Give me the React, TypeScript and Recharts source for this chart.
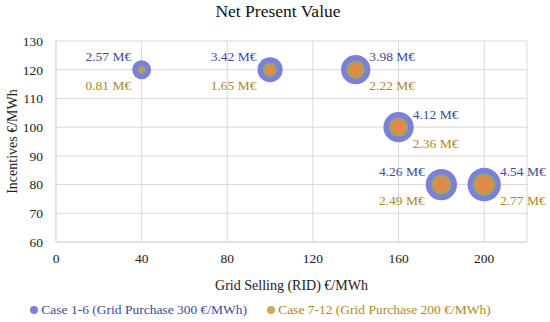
import React from 'react';
import { ScatterChart, Scatter, XAxis, YAxis, ZAxis, CartesianGrid, Legend, LabelList, Label } from 'recharts';

const gridSelling = [40, 100, 140, 160, 180, 200];
const incentives = [120, 120, 120, 100, 80, 80];
const npvCase1to6 = [2.57, 3.42, 3.98, 4.12, 4.26, 4.54];
const npvCase7to12 = [0.81, 1.65, 2.22, 2.36, 2.49, 2.77];
const xTicks = [0, 40, 80, 120, 160, 200];
const yTicks = [60, 70, 80, 90, 100, 110, 120, 130];
const labelSide = ['left', 'left', 'right', 'right', 'left', 'right'];
const seriesNames = ['Case 1-6 (Grid Purchase 300 €/MWh)', 'Case 7-12 (Grid Purchase 200 €/MWh)'];

const FONT = '"Liberation Serif", "DejaVu Serif", serif';
const BLUE = '#7b81d8';
const BLUE_TEXT = '#3b4c9c';
const ORANGE = '#e08a4c';
const ORANGE_RING = '#95aa5f';
const ORANGE_TEXT = '#b5862c';
const LEGEND_ORANGE = '#d3a75c';

const blueData = gridSelling.map((x, i) => ({ x, y: incentives[i], npv: npvCase1to6[i], other: npvCase7to12[i], z: npvCase1to6[i] * npvCase1to6[i] }));
const orangeData = gridSelling.map((x, i) => ({ x, y: incentives[i], npv: npvCase7to12[i], z: npvCase7to12[i] * npvCase7to12[i] }));
const maxZ = Math.max(...blueData.map(d => d.z));

const makeLabel = (kind: 'a' | 'b') => (props: any) => {
  const vb = props.viewBox && props.viewBox.width !== undefined ? props.viewBox : props;
  const idx = props.index;
  const r = vb.width / 2;
  const cx = vb.x + r;
  const cy = vb.y + r;
  const side = labelSide[idx];
  const dx = side === 'left' ? -(r + 1) : r - 1;
  const dy = kind === 'a' ? -13 : 16;
  const v = kind === 'a' ? npvCase1to6[idx] : npvCase7to12[idx];
  return (
    <text x={cx + dx} y={cy + dy} textAnchor={side === 'left' ? 'end' : 'start'} dominantBaseline="central"
      fill={kind === 'a' ? BLUE_TEXT : ORANGE_TEXT} fontSize={13.5} fontFamily={FONT}>
      {v.toFixed(2)} M€
    </text>
  );
};

const renderLegend = () => (
  <div style={{ display: 'flex', justifyContent: 'center', gap: 20, fontFamily: FONT, fontSize: 13.5, paddingRight: 6 }}>
    <span style={{ display: 'flex', alignItems: 'center', color: BLUE_TEXT }}>
      <svg width={8} height={8} style={{ marginRight: 3 }}><circle cx={4} cy={4} r={4} fill={BLUE} /></svg>
      {seriesNames[0]}
    </span>
    <span style={{ display: 'flex', alignItems: 'center', color: ORANGE_TEXT }}>
      <svg width={8} height={8} style={{ marginRight: 3 }}><circle cx={4} cy={4} r={4} fill={LEGEND_ORANGE} /></svg>
      {seriesNames[1]}
    </span>
  </div>
);

export default function App() {
  return (
    <div style={{ position: 'absolute', left: 0, top: 0, width: 550, height: 322, background: '#fff' }}>
      <div style={{ position: 'absolute', left: 0, top: 1, width: 556, textAlign: 'center', fontFamily: FONT, fontSize: 17.5, color: '#111' }}>
        Net Present Value
      </div>
      <ScatterChart width={550} height={322} margin={{ top: 41, right: 23, left: 0, bottom: 14 }}>
        <CartesianGrid stroke="#d9d9d9" />
        <XAxis type="number" dataKey="x" domain={[0, 220]} ticks={xTicks} allowDataOverflow
          axisLine={{ stroke: '#d9d9d9' }} tickLine={false} tickMargin={5} height={50}
          tick={{ fill: '#222', fontSize: 13.5, fontFamily: FONT }}>
          <Label value="Grid Selling (RID) €/MWh" position="insideBottom" offset={2}
            style={{ fill: '#222', fontSize: 14, fontFamily: FONT }} />
        </XAxis>
        <YAxis type="number" dataKey="y" domain={[60, 130]} ticks={yTicks} width={56}
          axisLine={{ stroke: '#d9d9d9' }} tickLine={false} tickMargin={7}
          tick={{ fill: '#222', fontSize: 13.5, fontFamily: FONT }}>
          <Label value="Incentives €/MWh" angle={-90} position="insideLeft" offset={12}
            style={{ fill: '#222', fontSize: 14, fontFamily: FONT, textAnchor: 'middle' }} />
        </YAxis>
        <ZAxis type="number" dataKey="z" domain={[0, maxZ]} range={[0, Math.PI * 16.7 * 16.7]} />
        <Legend verticalAlign="bottom" content={renderLegend} wrapperStyle={{ bottom: 4 }} />
        <Scatter name={seriesNames[0]} data={blueData} fill={BLUE} isAnimationActive={false}>
          <LabelList dataKey="npv" content={makeLabel('a')} />
          <LabelList dataKey="other" content={makeLabel('b')} />
        </Scatter>
        <Scatter name={seriesNames[1]} data={orangeData} fill={ORANGE} stroke={ORANGE_RING} strokeWidth={2} isAnimationActive={false} />
      </ScatterChart>
    </div>
  );
}
